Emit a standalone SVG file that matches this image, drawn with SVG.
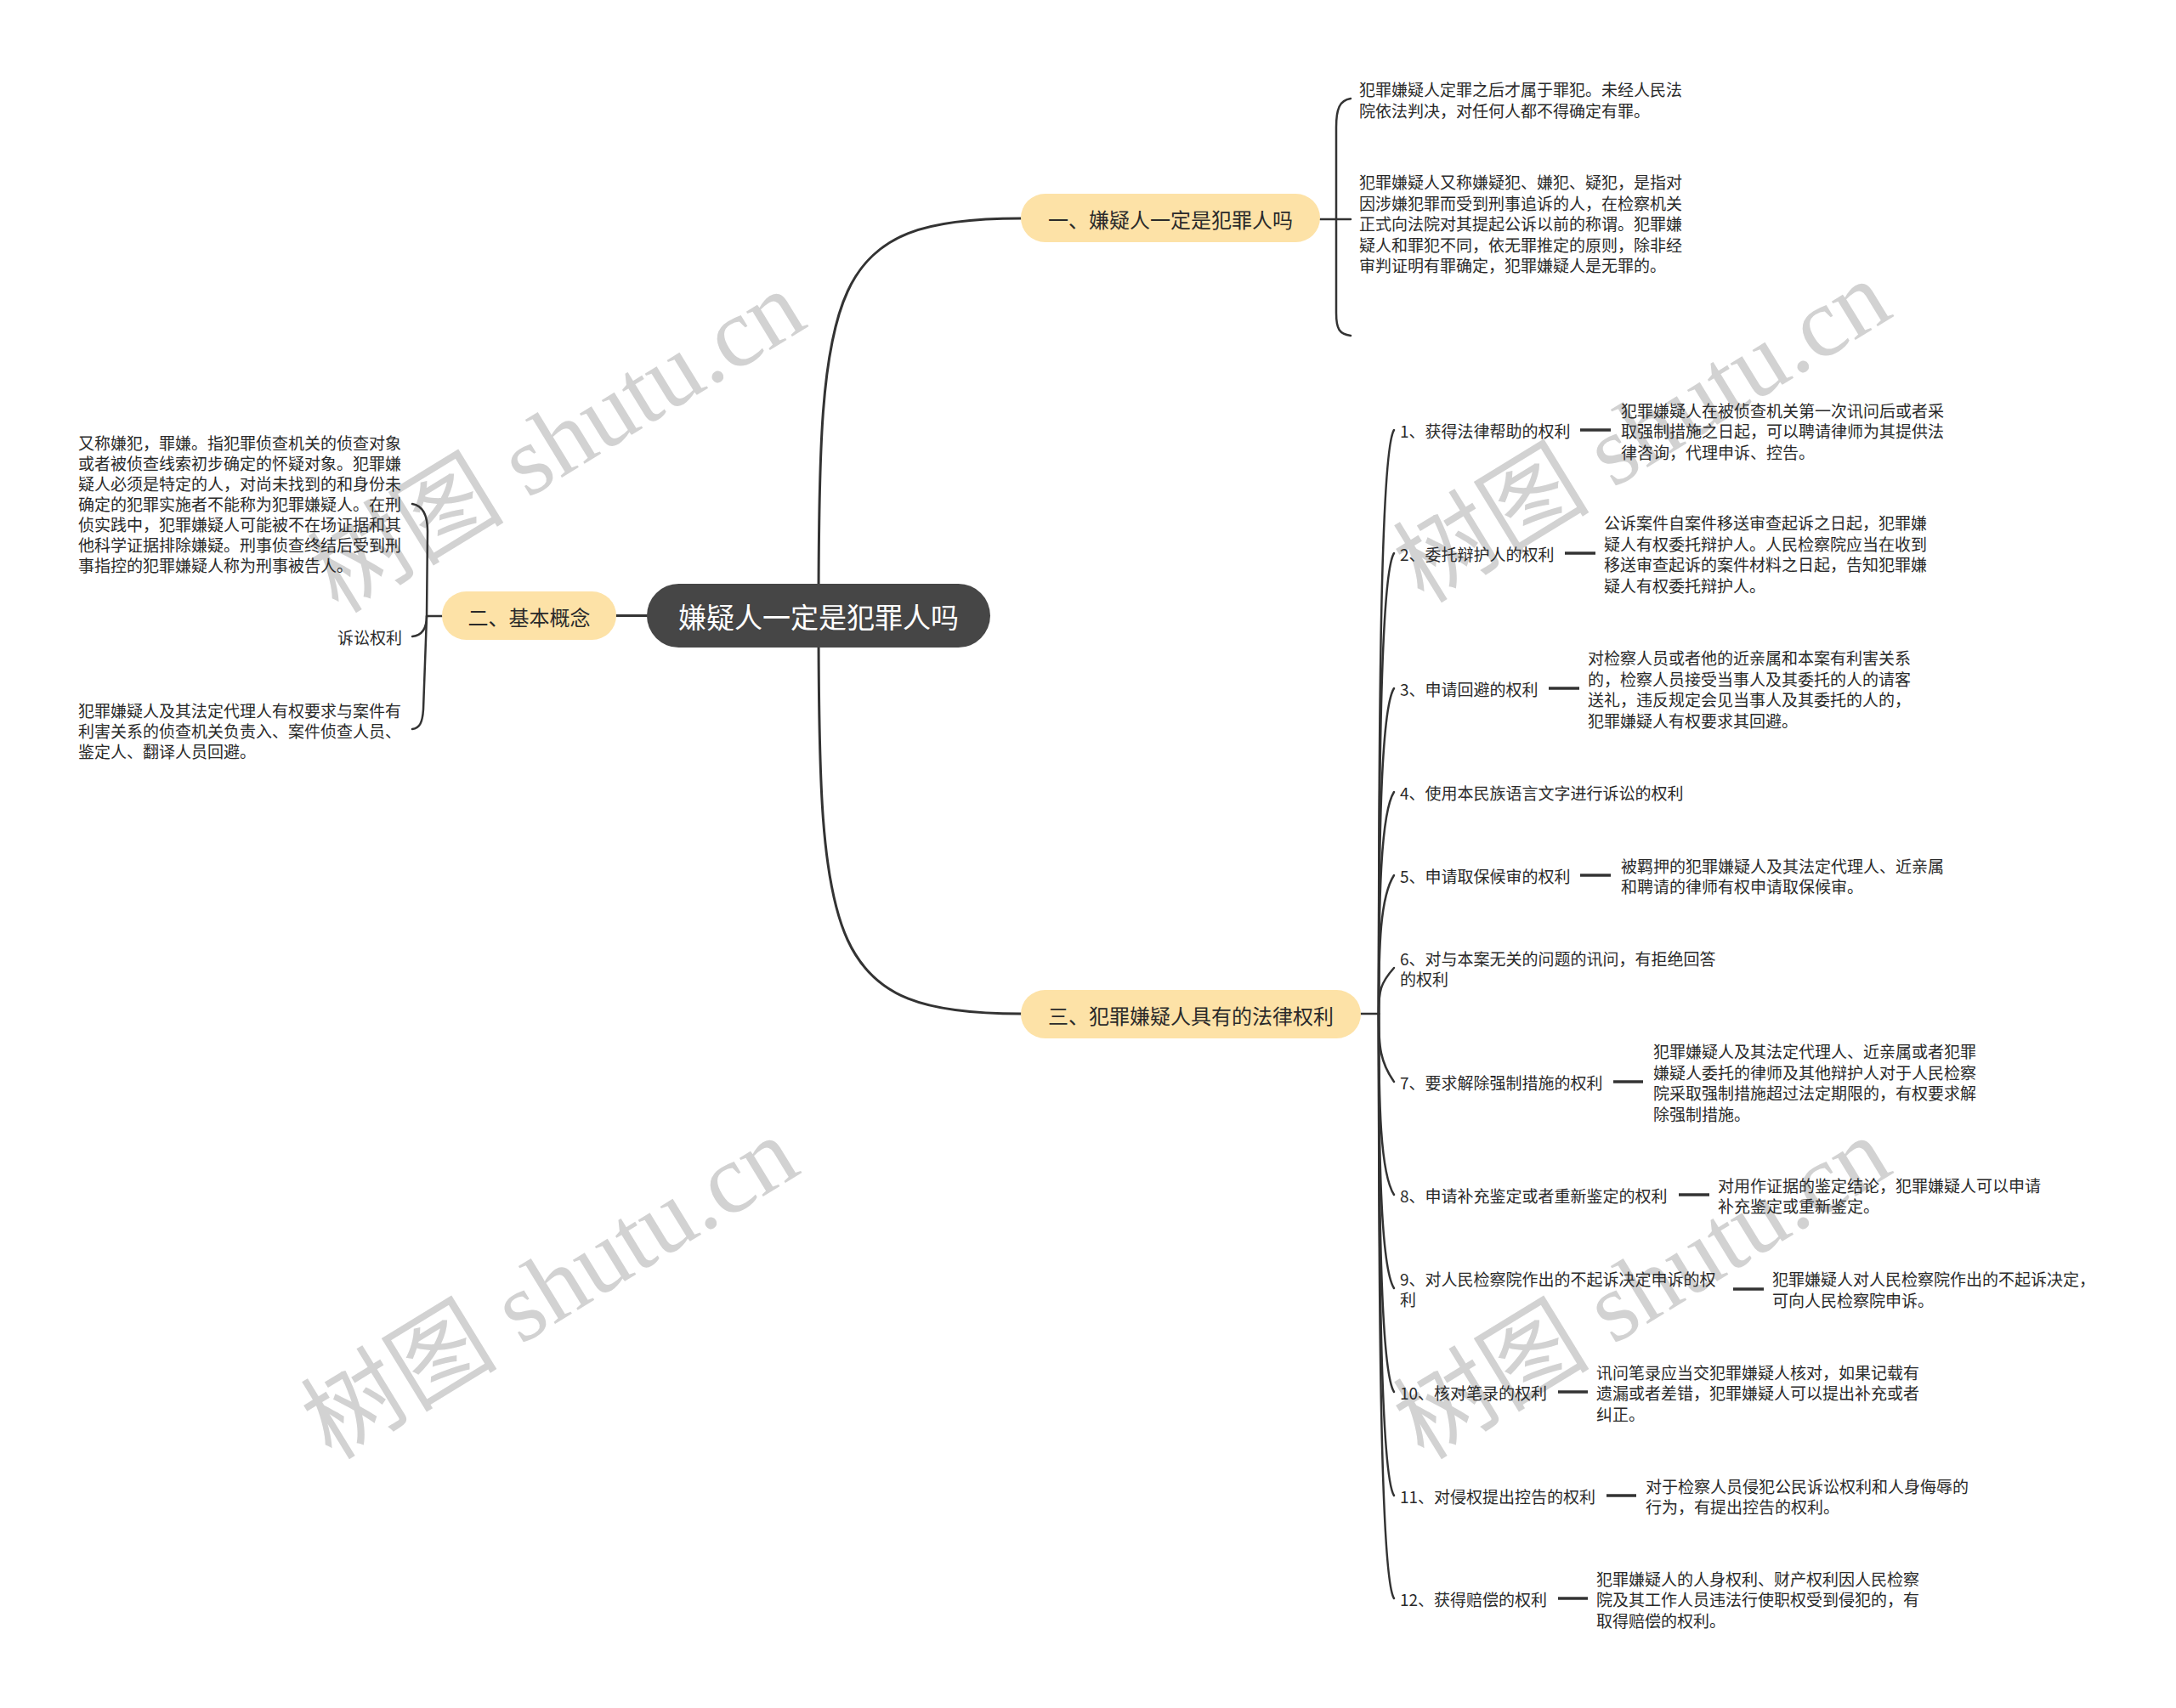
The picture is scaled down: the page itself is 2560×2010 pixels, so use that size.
<svg xmlns="http://www.w3.org/2000/svg" width="2560" height="2010" viewBox="0 0 2560 2010">
<style>
.ln{fill:none;stroke:#333;stroke-width:2.5;stroke-linecap:round}
.main{stroke-width:3}
.dash{fill:none;stroke:#333;stroke-width:3.5}
.t{font-family:"Noto Sans CJK SC","Microsoft YaHei",sans-serif;font-size:19px;fill:#2a2a2a;dominant-baseline:central}
.nt{font-family:"Noto Sans CJK SC","Microsoft YaHei",sans-serif;font-size:24px;fill:#2a2a2a;text-anchor:middle;dominant-baseline:central}
.rt{font-family:"Noto Sans CJK SC","Microsoft YaHei",sans-serif;font-size:33px;fill:#ffffff;text-anchor:middle;dominant-baseline:central}
.sub{fill:#fde2a7}
.wm{font-family:"Liberation Serif","Noto Sans CJK SC",serif;font-size:116px;fill:#d2d2d2;text-anchor:middle;dominant-baseline:central}
</style>
<rect x="0" y="0" width="2560" height="2010" fill="#ffffff"/>
<g id="watermarks">
<text class="wm" transform="translate(655,520) rotate(-31.5)">树图 shutu.cn</text>
<text class="wm" transform="translate(1932,508) rotate(-31.5)">树图 shutu.cn</text>
<text class="wm" transform="translate(647,1516) rotate(-31.5)">树图 shutu.cn</text>
<text class="wm" transform="translate(1932,1516) rotate(-31.5)">树图 shutu.cn</text>
</g>
<g id="connectors">
<path class="ln main" d="M963,724 C963,330 975,257 1201,257"/>
<path class="ln main" d="M963,724 C963,1118 975,1193 1201,1193"/>
<path class="ln main" d="M761,724.5 L725,724.5"/>
<path class="ln" d="M1553,258 L1589,258"/>
<path class="ln" d="M1589,116 C1576,118 1572,128 1572,150 L1572,368 C1572,388 1576,393 1589,395"/>
<path class="ln" d="M520,725 L502,725"/>
<path class="ln" d="M485,593 C497,595 503,605 503,625 L502,725 L498,835 C497,850 494,857 485,858"/>
<path class="ln" d="M502,725 C502,742 495,748 485,749"/>
<path class="ln" d="M1601,1193 L1622,1193"/>
<path class="ln" d="M1622,1193 C1622,849 1624,531 1640,506"/>
<path class="ln" d="M1622,1193 C1622,922 1624,676 1640,651"/>
<path class="ln" d="M1622,1193 C1622,1001 1624,835 1640,810"/>
<path class="ln" d="M1622,1193 C1622,1062 1624,957 1640,932"/>
<path class="ln" d="M1622,1193 C1622,1111 1624,1055 1640,1030"/>
<path class="ln" d="M1622,1193 C1622,1166 1624,1157 1640,1139"/>
<path class="ln" d="M1622,1193 C1622,1233 1624,1250 1640,1273"/>
<path class="ln" d="M1622,1193 C1622,1300 1624,1381 1640,1406"/>
<path class="ln" d="M1622,1193 C1622,1354 1624,1491 1640,1516"/>
<path class="ln" d="M1622,1193 C1622,1415 1624,1613 1640,1638"/>
<path class="ln" d="M1622,1193 C1622,1476 1624,1735 1640,1760"/>
<path class="ln" d="M1622,1193 C1622,1537 1624,1856 1640,1881"/>
<path class="dash" d="M1859,506 L1895,506"/>
<path class="dash" d="M1841,651 L1877,651"/>
<path class="dash" d="M1822,810 L1858,810"/>
<path class="dash" d="M1859,1030 L1895,1030"/>
<path class="dash" d="M1898,1273 L1933,1273"/>
<path class="dash" d="M1975,1406 L2011,1406"/>
<path class="dash" d="M2039,1517 L2075,1517"/>
<path class="dash" d="M1833,1638 L1868,1638"/>
<path class="dash" d="M1890,1760 L1925,1760"/>
<path class="dash" d="M1833,1881 L1868,1881"/>
</g>
<g id="root">
<rect x="761" y="687" width="404" height="75" rx="37.5" fill="#464646"/>
<text class="rt" x="963" y="725">嫌疑人一定是犯罪人吗</text>
</g>
<g id="node1">
<rect class="sub" x="1201" y="228" width="352" height="57" rx="28.5"/>
<text class="nt" x="1377" y="257">一、嫌疑人一定是犯罪人吗</text>
</g>
<g id="node1-t1">
<text class="t"><tspan x="1599" y="104">犯罪嫌疑人定罪之后才属于罪犯。未经人民法</tspan><tspan x="1599" y="128.5">院依法判决，对任何人都不得确定有罪。</tspan></text>
</g>
<g id="node1-t2">
<text class="t"><tspan x="1599" y="213">犯罪嫌疑人又称嫌疑犯、嫌犯、疑犯，是指对</tspan><tspan x="1599" y="237.5">因涉嫌犯罪而受到刑事追诉的人，在检察机关</tspan><tspan x="1599" y="262">正式向法院对其提起公诉以前的称谓。犯罪嫌</tspan><tspan x="1599" y="286.5">疑人和罪犯不同，依无罪推定的原则，除非经</tspan><tspan x="1599" y="311">审判证明有罪确定，犯罪嫌疑人是无罪的。</tspan></text>
</g>
<g id="node2">
<rect class="sub" x="520" y="696" width="205" height="57" rx="28.5"/>
<text class="nt" x="622.5" y="725">二、基本概念</text>
</g>
<g id="node2-t1">
<text class="t"><tspan x="92" y="520">又称嫌犯，罪嫌。指犯罪侦查机关的侦查对象</tspan><tspan x="92" y="544">或者被侦查线索初步确定的怀疑对象。犯罪嫌</tspan><tspan x="92" y="568">疑人必须是特定的人，对尚未找到的和身份未</tspan><tspan x="92" y="592">确定的犯罪实施者不能称为犯罪嫌疑人。在刑</tspan><tspan x="92" y="616">侦实践中，犯罪嫌疑人可能被不在场证据和其</tspan><tspan x="92" y="640">他科学证据排除嫌疑。刑事侦查终结后受到刑</tspan><tspan x="92" y="664">事指控的犯罪嫌疑人称为刑事被告人。</tspan></text>
</g>
<g id="node2-t2">
<text class="t" x="473" y="749" text-anchor="end">诉讼权利</text>
</g>
<g id="node2-t3">
<text class="t"><tspan x="92" y="835">犯罪嫌疑人及其法定代理人有权要求与案件有</tspan><tspan x="92" y="859">利害关系的侦查机关负责入、案件侦查人员、</tspan><tspan x="92" y="883">鉴定人、翻译人员回避。</tspan></text>
</g>
<g id="node3">
<rect class="sub" x="1201" y="1165" width="400" height="57" rx="28.5"/>
<text class="nt" x="1401" y="1194">三、犯罪嫌疑人具有的法律权利</text>
</g>
<g id="r1">
<text class="t" x="1647" y="506">1、获得法律帮助的权利</text>
<text class="t"><tspan x="1907" y="481.5">犯罪嫌疑人在被侦查机关第一次讯问后或者采</tspan><tspan x="1907" y="506">取强制措施之日起，可以聘请律师为其提供法</tspan><tspan x="1907" y="530.5">律咨询，代理申诉、控告。</tspan></text>
</g>
<g id="r2">
<text class="t" x="1647" y="651">2、委托辩护人的权利</text>
<text class="t"><tspan x="1887" y="614.3">公诉案件自案件移送审查起诉之日起，犯罪嫌</tspan><tspan x="1887" y="638.8">疑人有权委托辩护人。人民检察院应当在收到</tspan><tspan x="1887" y="663.3">移送审查起诉的案件材料之日起，告知犯罪嫌</tspan><tspan x="1887" y="687.8">疑人有权委托辩护人。</tspan></text>
</g>
<g id="r3">
<text class="t" x="1647" y="810">3、申请回避的权利</text>
<text class="t"><tspan x="1868" y="773.3">对检察人员或者他的近亲属和本案有利害关系</tspan><tspan x="1868" y="797.8">的，检察人员接受当事人及其委托的人的请客</tspan><tspan x="1868" y="822.3">送礼，违反规定会见当事人及其委托的人的，</tspan><tspan x="1868" y="846.8">犯罪嫌疑人有权要求其回避。</tspan></text>
</g>
<g id="r4">
<text class="t" x="1647" y="932">4、使用本民族语言文字进行诉讼的权利</text>
</g>
<g id="r5">
<text class="t" x="1647" y="1030">5、申请取保候审的权利</text>
<text class="t"><tspan x="1907" y="1017.8">被羁押的犯罪嫌疑人及其法定代理人、近亲属</tspan><tspan x="1907" y="1042.3">和聘请的律师有权申请取保候审。</tspan></text>
</g>
<g id="r6">
<text class="t"><tspan x="1647" y="1127">6、对与本案无关的问题的讯问，有拒绝回答</tspan><tspan x="1647" y="1151">的权利</tspan></text>
</g>
<g id="r7">
<text class="t" x="1647" y="1273">7、要求解除强制措施的权利</text>
<text class="t"><tspan x="1945" y="1236.3">犯罪嫌疑人及其法定代理人、近亲属或者犯罪</tspan><tspan x="1945" y="1260.8">嫌疑人委托的律师及其他辩护人对于人民检察</tspan><tspan x="1945" y="1285.3">院采取强制措施超过法定期限的，有权要求解</tspan><tspan x="1945" y="1309.8">除强制措施。</tspan></text>
</g>
<g id="r8">
<text class="t" x="1647" y="1406">8、申请补充鉴定或者重新鉴定的权利</text>
<text class="t"><tspan x="2021" y="1393.8">对用作证据的鉴定结论，犯罪嫌疑人可以申请</tspan><tspan x="2021" y="1418.3">补充鉴定或重新鉴定。</tspan></text>
</g>
<g id="r9">
<text class="t"><tspan x="1647" y="1504">9、对人民检察院作出的不起诉决定申诉的权</tspan><tspan x="1647" y="1528">利</tspan></text>
<text class="t"><tspan x="2085" y="1504">犯罪嫌疑人对人民检察院作出的不起诉决定，</tspan><tspan x="2085" y="1528.5">可向人民检察院申诉。</tspan></text>
</g>
<g id="r10">
<text class="t" x="1647" y="1638">10、核对笔录的权利</text>
<text class="t"><tspan x="1878" y="1613.5">讯问笔录应当交犯罪嫌疑人核对，如果记载有</tspan><tspan x="1878" y="1638">遗漏或者差错，犯罪嫌疑人可以提出补充或者</tspan><tspan x="1878" y="1662.5">纠正。</tspan></text>
</g>
<g id="r11">
<text class="t" x="1647" y="1760">11、对侵权提出控告的权利</text>
<text class="t"><tspan x="1936" y="1747.8">对于检察人员侵犯公民诉讼权利和人身侮辱的</tspan><tspan x="1936" y="1772.3">行为，有提出控告的权利。</tspan></text>
</g>
<g id="r12">
<text class="t" x="1647" y="1881">12、获得赔偿的权利</text>
<text class="t"><tspan x="1878" y="1856.5">犯罪嫌疑人的人身权利、财产权利因人民检察</tspan><tspan x="1878" y="1881">院及其工作人员违法行使职权受到侵犯的，有</tspan><tspan x="1878" y="1905.5">取得赔偿的权利。</tspan></text>
</g>
</svg>
